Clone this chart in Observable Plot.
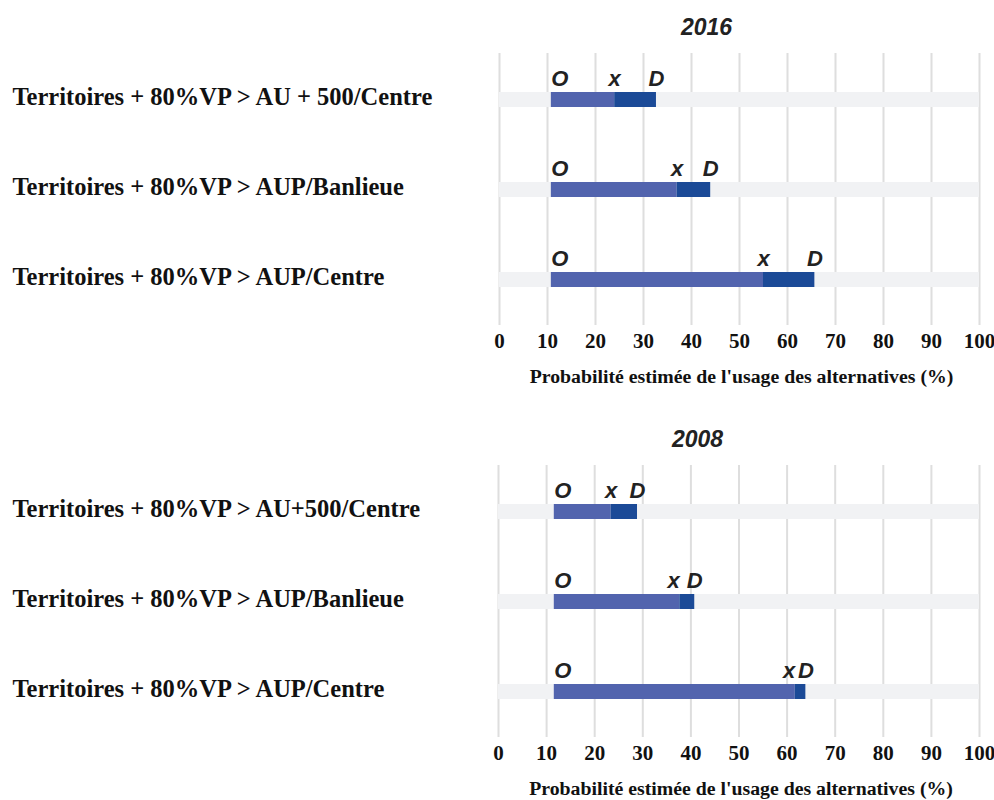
<!DOCTYPE html>
<html>
<head>
<meta charset="utf-8">
<script src="https://cdn.jsdelivr.net/npm/d3@7"></script>
<script src="https://cdn.jsdelivr.net/npm/@observablehq/plot@0.6"></script>
<style>
  body { margin: 0; background: #fff; }
  #wrap { width: 994px; }
  #wrap svg { display: block; }
  g[aria-label="year"] text { font-stretch: condensed; }
</style>
</head>
<body>
<div id="wrap"></div>
<script>
const ticks = [0, 10, 20, 30, 40, 50, 60, 70, 80, 90, 100];
const axisLabel = "Probabilité estimée de l'usage des alternatives (%)";

const categories2016 = [
  "Territoires + 80%VP > AU + 500/Centre",
  "Territoires + 80%VP > AUP/Banlieue",
  "Territoires + 80%VP > AUP/Centre"
];
const origin2016 = [10.8, 10.8, 10.8];
const mid2016 = [24, 37, 55];
const dest2016 = [32.7, 44, 65.7];

const categories2008 = [
  "Territoires + 80%VP > AU+500/Centre",
  "Territoires + 80%VP > AUP/Banlieue",
  "Territoires + 80%VP > AUP/Centre"
];
const origin2008 = [11.6, 11.6, 11.6];
const mid2008 = [23.4, 37.7, 61.7];
const dest2008 = [28.9, 40.8, 63.9];

const SERIF = "'Liberation Serif', 'Times New Roman', serif";
const SANS = "'Liberation Sans Narrow', 'Liberation Sans', Arial, sans-serif";
const SANS_N = "'Liberation Sans', Arial, sans-serif";

function chart(year, cats, o, m, d, cfg) {
  const rows = cats.map((c, i) => ({cat: c, o: o[i], m: m[i], d: d[i]}));
  const lab = {fontFamily: SANS_N, fontSize: 22, fontWeight: "bold", fontStyle: "italic", fill: "#222", dy: -21};
  return Plot.plot({
    width: 994,
    height: 400,
    marginLeft: cfg.left,
    marginRight: 15,
    marginTop: cfg.top,
    marginBottom: cfg.bottom,
    style: {background: "#fff", overflow: "visible"},
    x: {domain: [0, 100], axis: null},
    y: {domain: cats, type: "band", paddingInner: 0.8346, paddingOuter: 0.4173, axis: null},
    marks: [
      Plot.gridX(ticks, {stroke: "#dedede", strokeOpacity: 1, strokeWidth: 2}),
      Plot.barX(rows, {y: "cat", x1: 0, x2: 100, fill: "#f1f2f4"}),
      Plot.barX(rows, {y: "cat", x1: "o", x2: "m", fill: "#5264ae"}),
      Plot.barX(rows, {y: "cat", x1: "m", x2: "d", fill: "#1b4a97"}),
      Plot.text(rows, {x: "o", y: "cat", text: () => "O", textAnchor: "start", dx: 0, ...lab}),
      Plot.text(rows, {x: "m", y: "cat", text: () => "x", textAnchor: "middle", filter: r => r.d - r.m >= 4, ...lab}),
      Plot.text(rows, {x: "m", y: "cat", text: () => "x", textAnchor: "end", filter: r => r.d - r.m < 4, ...lab}),
      Plot.text(rows, {x: "d", y: "cat", text: () => "D", textAnchor: "middle", ...lab}),
      Plot.text(rows, {y: "cat", text: "cat", frameAnchor: "left", textAnchor: "start", dx: 12 - cfg.left, dy: -3,
        fontFamily: SERIF, fontSize: 24.5, fontWeight: "bold", fill: "#111"}),
      Plot.axisX({ticks, tickSize: 0, tickPadding: 8, fontFamily: SERIF, fontSize: 21, fontWeight: "bold", fill: "#111", label: null}),
      Plot.text([axisLabel], {frameAnchor: "bottom", dx: 2, dy: 51, lineAnchor: "middle",
        fontFamily: SERIF, fontSize: 19.8, fontWeight: "bold", fill: "#111"}),
      Plot.text([year], {frameAnchor: "top", dx: cfg.titleDx, dy: -26, lineAnchor: "middle", ariaLabel: "year",
        fontFamily: SANS, fontSize: 23, fontWeight: "bold", fontStyle: "italic", fill: "#222"})
    ]
  });
}

const wrap = document.getElementById("wrap");
wrap.append(chart("2016", categories2016, origin2016, mid2016, dest2016, {left: 499, top: 53, bottom: 75, titleDx: -33}));
wrap.append(chart("2008", categories2008, origin2008, mid2008, dest2008, {left: 498, top: 65, bottom: 63, titleDx: -41.5}));
</script>
</body>
</html>
